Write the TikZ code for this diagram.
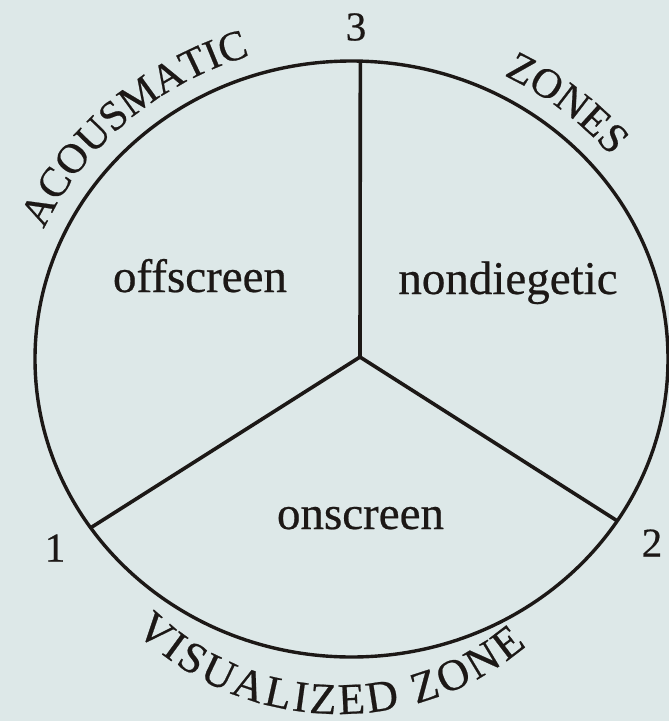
\documentclass[tikz,border=0pt]{standalone}
\usepackage{fontspec}
\setmainfont{Liberation Serif}[FakeBold=0.5]
\newfontfamily\arcfam{Liberation Serif}[FakeBold=0.5]
\usetikzlibrary{decorations.text}
\definecolor{paper}{RGB}{221,232,232}
\definecolor{ink}{RGB}{28,24,22}
\newcommand\arcfont{\arcfam\fontsize{42}{42}\selectfont}
\newcommand\arcfontb{\arcfam\fontsize{44}{44}\selectfont}
\begin{document}
\begin{tikzpicture}[x=1pt,y=1pt,
  rim/.style={draw=ink, line width=3.4pt},
  spoke/.style={draw=ink, line width=3.6pt},
  zonelabel/.style={text=ink, font=\fontsize{47}{50}\selectfont, anchor=base, inner sep=0pt},
  pointnum/.style={text=ink, font=\fontsize{41}{44}\selectfont, inner sep=0pt},
  arctext/.style={decorate, decoration={text along path, text align=center, text color=ink, text={|\arcfont|#1}}},
  fitarctext/.style={decorate, decoration={text along path, text align=fit to path, text color=ink, text={|\arcfontb|#1}}}
]
\useasboundingbox (0,0) rectangle (669,-721);
\fill[paper] (0,0) rectangle (669,-721);

\coordinate (C) at (351.5,-359);
\draw[rim] (C) ellipse [x radius=316.5, y radius=298];

\path (C) ++(214.5:316.5 and 298) coordinate (P1);
\path (C) ++(327.1:316.5 and 298) coordinate (P2);
\path (C) ++(88.4:316.5 and 298) coordinate (P3);
\coordinate (J) at (360,-357);

\draw[spoke, line join=round] (P1) -- (J) -- (P2);
\draw[spoke] (J) -- (P3);

\node[zonelabel] (off) at (200,-292) {offscreen};
\node[zonelabel] (nond) at (508,-294) {nondiegetic};
\node[zonelabel] (on) at (360.5,-529) {onscreen};

\node[pointnum] (n1) at (55,-548) {1};
\node[pointnum] (n2) at (652,-543) {2};
\node[pointnum] (n3) at (356,-27) {3};

\coordinate (B) at (339,-422);
\path[arctext={ACOUSMATIC}] (C) ++(168:337 and 318) arc[start angle=168, end angle=96, x radius=337, y radius=318];
\path[arctext={ZONES}] (C) ++(82:337 and 318) arc[start angle=82, end angle=20, x radius=337, y radius=318];
\path[fitarctext={VISUALIZED{ }ZONE}] (B) ++(225.6:292) arc[start angle=225.6, end angle=310, radius=292];
\end{tikzpicture}
\end{document}
